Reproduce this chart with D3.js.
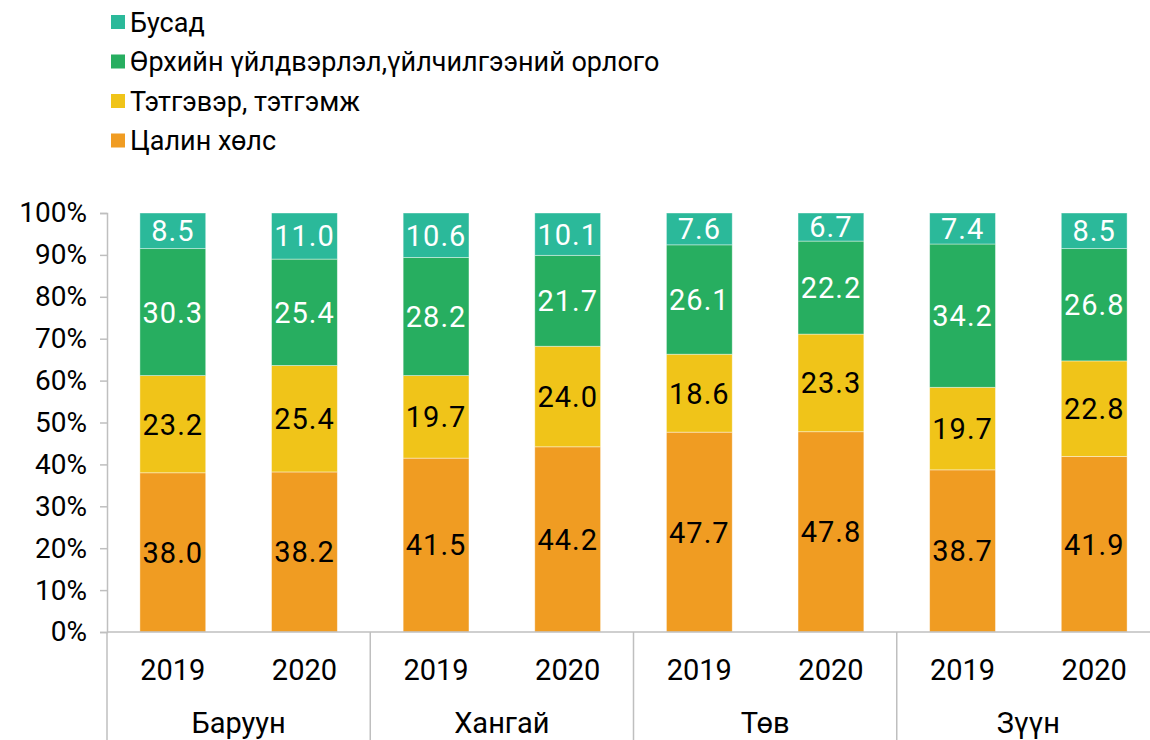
<!DOCTYPE html>
<html>
<head>
<meta charset="utf-8">
<script src="https://cdn.jsdelivr.net/npm/d3@7"></script>
<style>
  body { margin: 0; background: #fff; }
  svg { font-family: Roboto, "Noto Sans", sans-serif; }
</style>
</head>
<body>
<div id="chart"></div>
<script>
// data
var regions = ["Баруун", "Хангай", "Төв", "Зүүн"];
var years = ["2019", "2020"];
var seriesNames = ["Цалин хөлс", "Тэтгэвэр, тэтгэмж", "Өрхийн үйлдвэрлэл,үйлчилгээний орлого", "Бусад"];
var seriesColors = ["#f09c22", "#f0c419", "#27ae60", "#2bb99a"];
var labelColors = ["#000", "#000", "#fff", "#fff"];
var wages = [38.0, 38.2, 41.5, 44.2, 47.7, 47.8, 38.7, 41.9];
var pensions = [23.2, 25.4, 19.7, 24.0, 18.6, 23.3, 19.7, 22.8];
var household = [30.3, 25.4, 28.2, 21.7, 26.1, 22.2, 34.2, 26.8];
var other = [8.5, 11.0, 10.6, 10.1, 7.6, 6.7, 7.4, 8.5];
var yTicks = [0, 10, 20, 30, 40, 50, 60, 70, 80, 90, 100];

var svgWidth = 1150;
var svgHeight = 740;
var margin = { top: 213, left: 107 };
var width = 1053;   // axis runs past the right edge, like the original
var height = 419;

var svg = d3.select("#chart")
  .append("svg")
  .attr("width", svgWidth)
  .attr("height", svgHeight);

var chartGroup = svg.append("g")
  .attr("transform", `translate(${margin.left}, ${margin.top})`);

// build table: one row per bar
var rows = [];
regions.forEach(function(r, i) {
  years.forEach(function(y, j) {
    var k = i * 2 + j;
    rows.push({ key: r + "|" + y, region: r, year: y,
      s0: wages[k], s1: pensions[k], s2: household[k], s3: other[k] });
  });
});
var keys = ["s0", "s1", "s2", "s3"];
var stacked = d3.stack().keys(keys)(rows);

var xScale = d3.scaleBand()
  .domain(rows.map(d => d.key))
  .range([0, width])
  .paddingInner(0.5)
  .paddingOuter(0.25);

var yScale = d3.scaleLinear()
  .domain([0, 100])
  .range([height, 0]);

// y axis
var leftAxis = d3.axisLeft(yScale)
  .tickValues(yTicks)
  .tickFormat(d => d + "%")
  .tickSize(7)
  .tickPadding(13);
var yAxisG = chartGroup.append("g").call(leftAxis);
yAxisG.select(".domain").attr("stroke", "#bfbfbf").attr("stroke-width", 1.5);
yAxisG.selectAll(".tick line").attr("stroke", "#bfbfbf").attr("stroke-width", 1.5);
yAxisG.selectAll(".tick text")
  .attr("font-size", 28)
  .attr("fill", "#000")
  .style("font-family", "Roboto, sans-serif");

// bars
var layers = chartGroup.selectAll(".layer")
  .data(stacked)
  .enter()
  .append("g")
  .attr("class", "layer")
  .attr("fill", (d, i) => seriesColors[i]);

layers.selectAll("rect")
  .data(d => d)
  .enter()
  .append("rect")
  .attr("x", d => xScale(d.data.key))
  .attr("y", d => yScale(d[1]))
  .attr("width", xScale.bandwidth())
  .attr("height", d => yScale(d[0]) - yScale(d[1]))
  .attr("stroke", "#ffffff")
  .attr("stroke-opacity", 0.5)
  .attr("stroke-width", 0.8);

// value labels
stacked.forEach(function(layer, i) {
  chartGroup.selectAll(".lbl" + i)
    .data(layer)
    .enter()
    .append("text")
    .attr("class", "lbl" + i)
    .attr("x", d => xScale(d.data.key) + xScale.bandwidth() / 2)
    .attr("y", d => yScale((d[0] + d[1]) / 2))
    .attr("dy", "0.36em")
    .attr("text-anchor", "middle")
    .attr("font-size", 29)
    .attr("letter-spacing", 1)
    .attr("fill", labelColors[i])
    .text(d => d.data[layer.key].toFixed(1));
});

// x axis baseline
chartGroup.append("line")
  .attr("x1", 0).attr("x2", width)
  .attr("y1", height).attr("y2", height)
  .attr("stroke", "#bfbfbf").attr("stroke-width", 1.5);

// group separators (multi-level category axis)
var step = xScale.step();
var groupW = step * 2;
d3.range(regions.length + 1).forEach(function(i) {
  chartGroup.append("line")
    .attr("x1", i * groupW).attr("x2", i * groupW)
    .attr("y1", height).attr("y2", svgHeight - margin.top)
    .attr("stroke", "#bfbfbf").attr("stroke-width", 1.5);
});

// year labels
chartGroup.selectAll(".year")
  .data(rows)
  .enter()
  .append("text")
  .attr("class", "year")
  .attr("x", d => xScale(d.key) + xScale.bandwidth() / 2)
  .attr("y", height + 38)
  .attr("dy", "0.36em")
  .attr("text-anchor", "middle")
  .attr("font-size", 29)
  .text(d => d.year);

// region labels
chartGroup.selectAll(".region")
  .data(regions)
  .enter()
  .append("text")
  .attr("class", "region")
  .attr("x", (d, i) => i * groupW + groupW / 2)
  .attr("y", height + 91)
  .attr("dy", "0.36em")
  .attr("text-anchor", "middle")
  .attr("font-size", 29)
  .text(d => d);

// legend (top series first)
var legendOrder = [3, 2, 1, 0];
var legend = svg.append("g").attr("transform", "translate(111, 22)");
legendOrder.forEach(function(s, i) {
  var g = legend.append("g").attr("transform", `translate(0, ${i * 39.5})`);
  g.append("rect")
    .attr("x", 0).attr("y", -7)
    .attr("width", 14).attr("height", 14)
    .attr("fill", seriesColors[s]);
  g.append("text")
    .attr("x", 19)
    .attr("y", 0)
    .attr("dy", "0.36em")
    .attr("font-size", 27)
    .text(seriesNames[s]);
});
</script>
</body>
</html>
